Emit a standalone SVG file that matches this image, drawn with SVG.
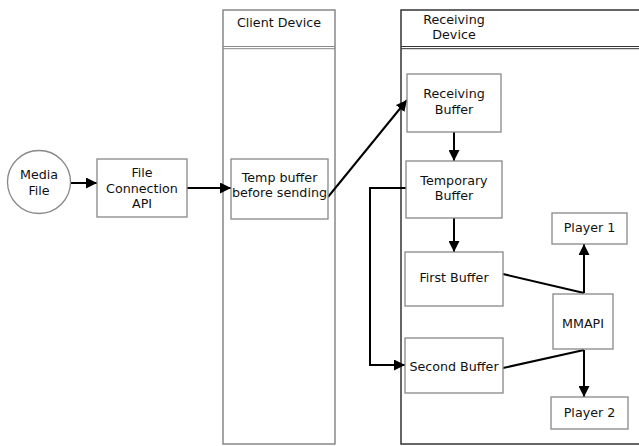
<svg xmlns="http://www.w3.org/2000/svg" width="639" height="446" viewBox="0 0 639 446">
  <defs>
    <marker id="arrow" viewBox="0 0 10 10" refX="10" refY="5" markerWidth="11" markerHeight="11" markerUnits="userSpaceOnUse" orient="auto">
      <path d="M0,0 L10,5 L0,10 z" fill="#000"/>
    </marker>
  </defs>
  <style>
    text { font-family: "DejaVu Sans", sans-serif; font-size: 12.7px; fill: #111; text-anchor: middle; }
    .node { fill: #fff; stroke: #888; stroke-width: 1.3; }
    .lane-client { fill: #fff; stroke: #888; stroke-width: 1.5; }
    .lane-recv { fill: #fff; stroke: #333; stroke-width: 1.5; }
    .conn { fill: none; stroke: #000; stroke-width: 2; }
  </style>
  <rect width="639" height="446" fill="#fff"/>

  <!-- swimlanes -->
  <g id="lane-client">
    <rect class="lane-client" x="223" y="10" width="112" height="434"/>
    <line x1="223" y1="46.5" x2="335" y2="46.5" stroke="#888" stroke-width="1"/>
    <line x1="223" y1="48.7" x2="335" y2="48.7" stroke="#888" stroke-width="1"/>
    <text x="279" y="27">Client Device</text>
  </g>
  <g id="lane-receiving">
    <rect class="lane-recv" x="401" y="10" width="250" height="434"/>
    <line x1="401" y1="46.5" x2="639" y2="46.5" stroke="#333" stroke-width="1"/>
    <line x1="401" y1="48.7" x2="639" y2="48.7" stroke="#333" stroke-width="1"/>
    <text x="454" y="24">Receiving</text>
    <text x="454" y="39">Device</text>
  </g>

  <!-- connectors -->
  <g id="connectors">
    <line class="conn" x1="71" y1="183" x2="97" y2="183" marker-end="url(#arrow)"/>
    <line class="conn" x1="187" y1="188" x2="231" y2="188" marker-end="url(#arrow)"/>
    <line class="conn" x1="328" y1="197" x2="407" y2="100" marker-end="url(#arrow)"/>
    <line class="conn" x1="454" y1="132" x2="454" y2="161" marker-end="url(#arrow)"/>
    <line class="conn" x1="454" y1="218" x2="454" y2="252" marker-end="url(#arrow)"/>
    <polyline class="conn" points="406,188 370,188 370,365 405,365" marker-end="url(#arrow)"/>
    <line class="conn" x1="503" y1="274" x2="584" y2="293"/>
    <line class="conn" x1="584" y1="293" x2="584" y2="244" marker-end="url(#arrow)"/>
    <line class="conn" x1="503" y1="368" x2="584" y2="350"/>
    <line class="conn" x1="584" y1="350" x2="584" y2="397" marker-end="url(#arrow)"/>
  </g>

  <!-- nodes -->
  <g id="media-file">
    <circle class="node" cx="39" cy="182" r="31.5"/>
    <text x="39" y="179">Media</text>
    <text x="39" y="195">File</text>
  </g>
  <g id="file-connection-api">
    <rect class="node" x="97" y="159" width="90" height="58"/>
    <text x="142" y="177">File</text>
    <text x="142" y="193">Connection</text>
    <text x="142" y="208">API</text>
  </g>
  <g id="temp-buffer">
    <rect class="node" x="231" y="159" width="97" height="60"/>
    <text x="279.5" y="182">Temp buffer</text>
    <text x="279.5" y="197">before sending</text>
  </g>
  <g id="receiving-buffer">
    <rect class="node" x="407" y="74" width="94" height="58"/>
    <text x="454" y="98">Receiving</text>
    <text x="454" y="114">Buffer</text>
  </g>
  <g id="temporary-buffer">
    <rect class="node" x="406" y="161" width="96" height="57"/>
    <text x="454" y="185">Temporary</text>
    <text x="454" y="200">Buffer</text>
  </g>
  <g id="first-buffer">
    <rect class="node" x="405" y="252" width="98" height="54"/>
    <text x="454" y="282">First Buffer</text>
  </g>
  <g id="second-buffer">
    <rect class="node" x="405" y="338" width="98" height="55"/>
    <text x="454" y="371">Second Buffer</text>
  </g>
  <g id="mmapi">
    <rect class="node" x="553" y="294" width="60" height="55"/>
    <text x="583" y="328">MMAPI</text>
  </g>
  <g id="player-1">
    <rect class="node" x="552" y="213" width="75" height="31"/>
    <text x="589.5" y="232">Player 1</text>
  </g>
  <g id="player-2">
    <rect class="node" x="551" y="397" width="77" height="32"/>
    <text x="589.5" y="417">Player 2</text>
  </g>
</svg>
